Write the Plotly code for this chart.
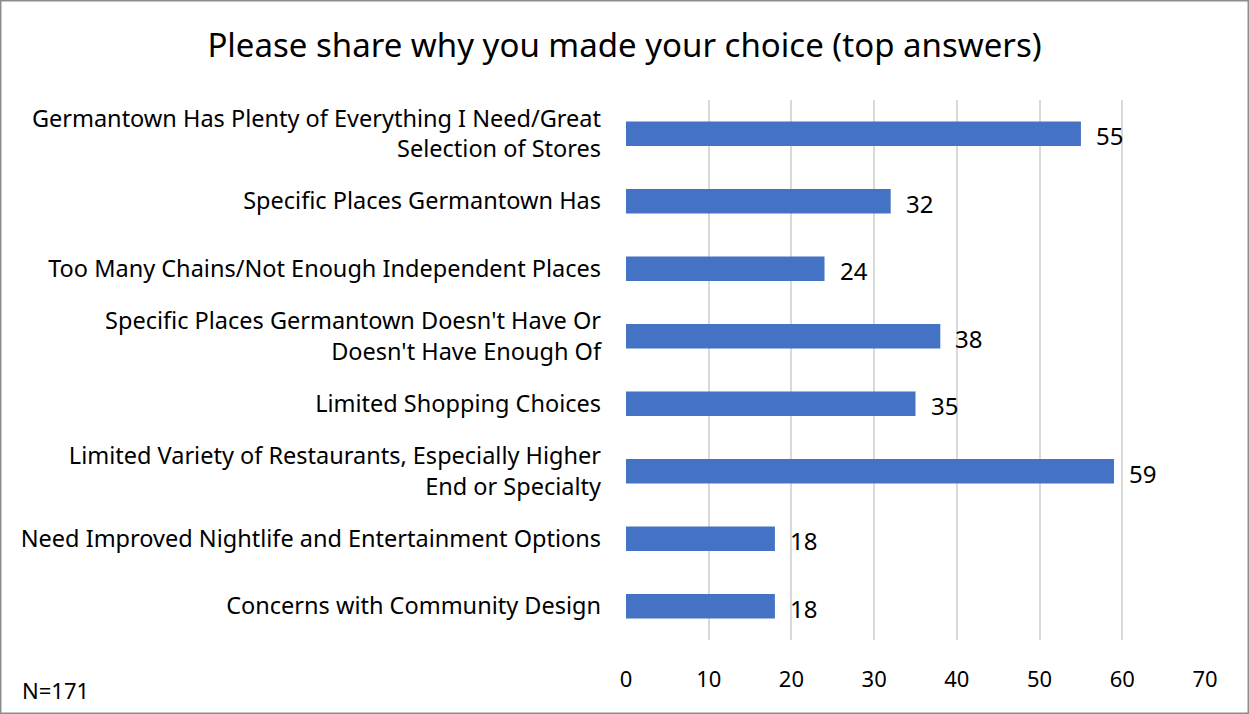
import plotly.graph_objects as go

categories = [
    "Germantown Has Plenty of Everything I Need/Great<br>Selection of Stores",
    "Specific Places Germantown Has",
    "Too Many Chains/Not Enough Independent Places",
    "Specific Places Germantown Doesn't Have Or<br>Doesn't Have Enough Of",
    "Limited Shopping Choices",
    "Limited Variety of Restaurants, Especially Higher<br>End or Specialty",
    "Need Improved Nightlife and Entertainment Options",
    "Concerns with Community Design",
]
values = [55, 32, 24, 38, 35, 59, 18, 18]
x_ticks = [0, 10, 20, 30, 40, 50, 60, 70]

FONT = "Noto Sans"
W, H = 1249, 714
L, R, T, B = 626, 44, 100, 74
pw, ph = W - L - R, H - T - B

fig = go.Figure()
fig.add_trace(go.Bar(
    y=categories, x=values, orientation="h",
    marker=dict(color="#4472C4", line=dict(width=0)),
    width=0.36,
    hoverinfo="skip",
))
for c, v in zip(categories, values):
    fig.add_annotation(x=v, y=c, text=str(v), showarrow=False,
                       xanchor="left", xshift=13, yshift=-2,
                       font=dict(family=FONT, size=24, color="#000"))

fig.update_layout(
    width=W, height=H,
    margin=dict(l=L, r=R, t=T, b=B),
    paper_bgcolor="white", plot_bgcolor="white",
    showlegend=False,
    title=dict(text="Please share why you made your choice (top answers)",
               x=0.5, xref="container", xanchor="center", y=1 - 45 / H, yanchor="middle",
               font=dict(family=FONT, size=33, color="#000")),
    font=dict(family=FONT, color="#000"),
    xaxis=dict(range=[0, 70], tickvals=x_ticks, showgrid=True,
               gridcolor="#d9d9d9", gridwidth=2, zeroline=False,
               showline=False, ticks="", ticklabelstandoff=24,
               tickfont=dict(family=FONT, size=22, color="#000")),
    yaxis=dict(autorange="reversed", showgrid=False, zeroline=False,
               ticks="", ticklabelstandoff=24,
               tickfont=dict(family=FONT, size=23.5, color="#000")),
    shapes=[dict(type="rect", xref="paper", yref="paper",
                 x0=-L / pw + 0.0008, x1=(W - L) / pw - 0.0008,
                 y0=-B / ph + 0.001, y1=(H - B) / ph - 0.001,
                 line=dict(color="#8c8c8c", width=2), layer="below")],
    annotations=list(fig.layout.annotations) + [
        dict(text="N=171", xref="paper", yref="paper",
             x=-(L - 20) / pw, y=-(690 - 640) / ph,
             xanchor="left", yanchor="middle", showarrow=False,
             font=dict(family=FONT, size=22, color="#000"))
    ],
)

fig.write_html("out.html")
